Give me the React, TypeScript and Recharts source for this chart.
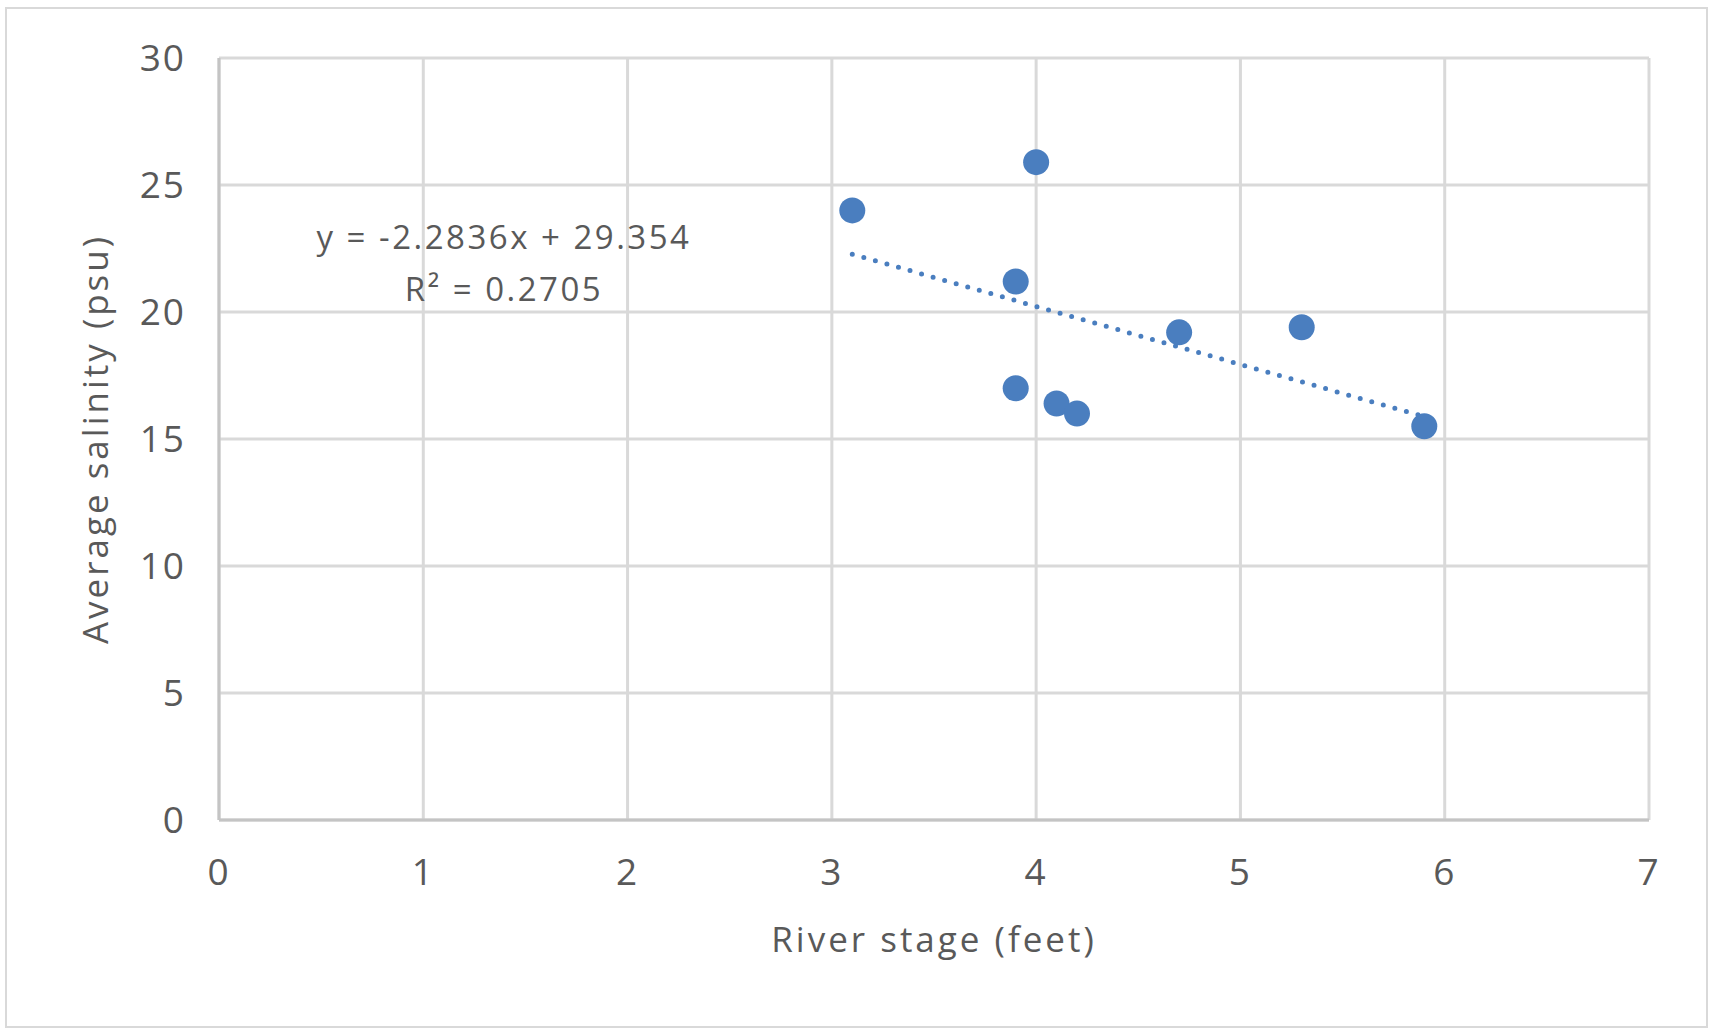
import React from 'react';
import {
  ScatterChart,
  Scatter,
  XAxis,
  YAxis,
  CartesianGrid,
  ReferenceLine,
  Customized,
} from 'recharts';

// River stage (feet) and average salinity (psu) per sample
const stageFeet = [3.1, 4.0, 3.9, 3.9, 4.1, 4.2, 4.7, 5.3, 5.9];
const salinityPsu = [24.0, 25.9, 21.2, 17.0, 16.4, 16.0, 19.2, 19.4, 15.5];

const xTicks = [0, 1, 2, 3, 4, 5, 6, 7];
const yTicks = [0, 5, 10, 15, 20, 25, 30];

// linear trendline as reported on the chart
const trendSlope = -2.2836;
const trendIntercept = 29.354;
const trendR2 = 0.2705;

const BLUE = '#4a7ebf';
const GRID = '#d9d9d9';
const AXIS = '#c4c4c4';
const TEXT = '#595959';
const FONT = '"Open Sans", sans-serif';

const points = stageFeet.map((x, i) => ({ x, y: salinityPsu[i] }));

const xMin = Math.min(...stageFeet);
const xMax = Math.max(...stageFeet);
const trendSegment = [
  { x: xMin, y: trendSlope * xMin + trendIntercept },
  { x: xMax, y: trendSlope * xMax + trendIntercept },
];

const Marker = (props: any) => <circle cx={props.cx} cy={props.cy} r={13} fill={BLUE} />;

// equation + R² box, left of the data cloud
const TrendLabel = () => (
  <g fontFamily={FONT} fontSize={33} fill={TEXT} textAnchor="middle" letterSpacing={2.5}>
    <text x={504} y={249}>
      {`y = ${trendSlope}x + ${trendIntercept}`}
    </text>
    <text x={504} y={301}>
      {`R² = ${trendR2}`}
    </text>
  </g>
);

export default function App() {
  const tickStyle = { fontFamily: FONT, fontSize: 37, fill: TEXT, letterSpacing: 2 };
  const titleStyle = { fontFamily: FONT, fontSize: 35, fill: TEXT, letterSpacing: 3 };

  return (
    <div style={{ position: 'absolute', left: 0, top: 0, width: 1711, height: 1031, background: '#fff' }}>
      <div
        style={{
          position: 'absolute',
          left: 5,
          top: 7,
          width: 1703,
          height: 1021,
          border: '2px solid #d9d9d9',
          boxSizing: 'border-box',
        }}
      />
      <div style={{ position: 'absolute', left: 0, top: 0 }}>
        <ScatterChart width={1711} height={1031} margin={{ top: 58, right: 62, bottom: 31, left: 69 }}>
          <CartesianGrid stroke={GRID} strokeWidth={3} horizontalValues={yTicks} verticalValues={xTicks} />
          <XAxis
            type="number"
            dataKey="x"
            domain={[0, 7]}
            ticks={xTicks}
            height={180}
            tickLine={false}
            tickSize={0}
            tickMargin={39}
            axisLine={{ stroke: AXIS, strokeWidth: 3 }}
            tick={tickStyle}
            label={{
              value: 'River stage (feet)',
              position: 'insideTop',
              offset: 107,
              style: titleStyle,
            }}
          />
          <YAxis
            type="number"
            dataKey="y"
            domain={[0, 30]}
            ticks={yTicks}
            width={150}
            tickLine={false}
            tickSize={0}
            tickMargin={33}
            axisLine={{ stroke: AXIS, strokeWidth: 3 }}
            tick={tickStyle}
            label={{
              value: 'Average salinity (psu)',
              angle: -90,
              position: 'insideLeft',
              offset: 27,
              style: { ...titleStyle, textAnchor: 'middle' },
            }}
          />
          <Scatter data={points} fill={BLUE} shape={Marker} isAnimationActive={false} />
          <ReferenceLine
            segment={trendSegment}
            stroke={BLUE}
            strokeWidth={5}
            strokeDasharray="0 12"
            strokeLinecap="round"
          />
          <Customized component={TrendLabel} />
        </ScatterChart>
      </div>
    </div>
  );
}
